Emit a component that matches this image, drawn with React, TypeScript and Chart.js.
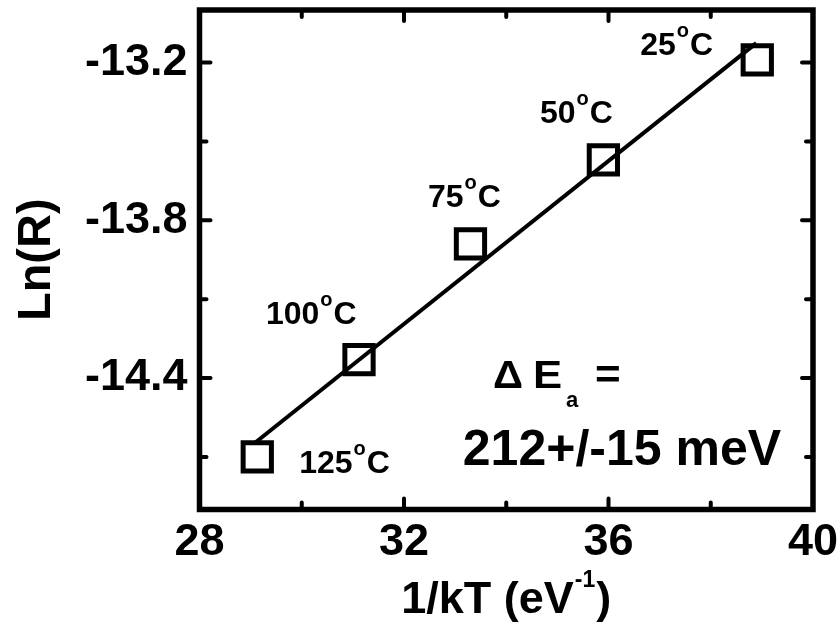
import React, { useEffect, useRef } from "react";
import { Chart, registerables } from "chart.js";

Chart.register(...registerables);

// ---- data ----
const invKT = [29.13, 31.12, 33.3, 35.9, 38.91];
const lnR = [-14.7, -14.33, -13.89, -13.57, -13.19];
const tempLabels = ["125", "100", "75", "50", "25"];
// label anchors (data coords: left edge, baseline)
const tempLabelX = [29.95, 29.3, 32.47, 34.66, 36.62];
const tempLabelY = [-14.761, -14.194, -13.749, -13.43, -13.171];
const fitX = [29.08, 38.89];
const fitY = [-14.647, -13.126];
const xTicks = [28, 30, 32, 34, 36, 38, 40];
const xMajor = [28, 32, 36, 40];
const yTicks = [-14.7, -14.4, -14.1, -13.8, -13.5, -13.2];
const yMajor = [-14.4, -13.8, -13.2];
const xTitleMain = "1/kT (eV";
const xTitleSup = "-1";
const xTitleEnd = ")";
const yTitle = "Ln(R)";
const energySymbol = ["\u0394", "E", "a", "="];
const energyValue = "212+/-15 meV";
const energyAnchor = { x: 33.74, y: -14.438 };
const energyValueAnchor = { x: 33.15, y: -14.731 };

const FONT = '"Liberation Sans", Arial, Helvetica, sans-serif';

const isIn = (arr: number[], v: number) => arr.some((a) => Math.abs(a - v) < 1e-6);

function seg(ctx: CanvasRenderingContext2D, text: string, x: number, y: number, size: number, sx = 1) {
  ctx.font = `bold ${size}px ${FONT}`;
  ctx.save();
  ctx.translate(x, y);
  ctx.scale(sx, 1);
  ctx.fillText(text, 0, 0);
  ctx.restore();
  return ctx.measureText(text).width * sx;
}

const framePlugin = {
  id: "frameAndText",
  afterDraw(chart: any) {
    const { ctx, chartArea, scales } = chart;
    const { left, right, top, bottom } = chartArea;
    const xs = scales.x;
    const ys = scales.y;
    ctx.save();
    ctx.strokeStyle = "#000";
    ctx.fillStyle = "#000";
    ctx.lineWidth = 5.5;
    ctx.strokeRect(left, top, right - left, bottom - top);
    ctx.lineWidth = 4;
    ctx.lineCap = "round";
    ctx.beginPath();
    xTicks.forEach((v) => {
      const p = xs.getPixelForValue(v);
      const len = isIn(xMajor, v) ? 11 : 7;
      ctx.moveTo(p, bottom);
      ctx.lineTo(p, bottom - len);
      ctx.moveTo(p, top);
      ctx.lineTo(p, top + len);
    });
    yTicks.forEach((v) => {
      const p = ys.getPixelForValue(v);
      const len = isIn(yMajor, v) ? 11 : 7;
      ctx.moveTo(left, p);
      ctx.lineTo(left + len, p);
      ctx.moveTo(right, p);
      ctx.lineTo(right - len, p);
    });
    ctx.stroke();

    // temperature labels
    ctx.textAlign = "left";
    ctx.textBaseline = "alphabetic";
    tempLabels.forEach((t, i) => {
      const px = xs.getPixelForValue(tempLabelX[i]);
      const py = ys.getPixelForValue(tempLabelY[i]);
      const w = seg(ctx, t, px, py, 32);
      const w2 = seg(ctx, "o", px + w + 1, py - 18, 20);
      seg(ctx, "C", px + w + w2 + 2, py, 32);
    });

    // activation energy
    {
      const px = xs.getPixelForValue(energyAnchor.x);
      const py = ys.getPixelForValue(energyAnchor.y);
      seg(ctx, energySymbol[0], px, py, 38, 1.1);
      seg(ctx, energySymbol[1], px + 40, py, 38, 1.15);
      seg(ctx, energySymbol[2], px + 73, py + 19, 22);
      seg(ctx, energySymbol[3], px + 102, py, 40, 1.1);
      const vx = xs.getPixelForValue(energyValueAnchor.x);
      const vy = ys.getPixelForValue(energyValueAnchor.y);
      seg(ctx, energyValue, vx, vy, 50);
    }

    // x title
    {
      ctx.font = `bold 45px ${FONT}`;
      const w1 = ctx.measureText(xTitleMain).width;
      ctx.font = `bold 23px ${FONT}`;
      const w2 = ctx.measureText(xTitleSup).width;
      ctx.font = `bold 45px ${FONT}`;
      const w3 = ctx.measureText(xTitleEnd).width;
      const total = w1 + w2 + w3 + 2;
      const cx = (left + right) / 2;
      const by = 613;
      let x0 = cx - total / 2;
      seg(ctx, xTitleMain, x0, by, 45);
      x0 += w1 + 1;
      seg(ctx, xTitleSup, x0, by - 26, 23);
      x0 += w2 + 1;
      seg(ctx, xTitleEnd, x0, by, 45);
    }

    // y title
    {
      ctx.save();
      ctx.translate(50, (top + bottom) / 2);
      ctx.rotate(-Math.PI / 2);
      ctx.textAlign = "center";
      ctx.textBaseline = "alphabetic";
      ctx.font = `bold 47px ${FONT}`;
      ctx.fillText(yTitle, 0, 0);
      ctx.restore();
    }
    ctx.restore();
  },
};

export default function App() {
  const ref = useRef<HTMLCanvasElement | null>(null);
  useEffect(() => {
    if (!ref.current) return;
    Chart.defaults.font.family = FONT;
    const chart = new Chart(ref.current, {
      type: "scatter",
      data: {
        datasets: [
          {
            label: "fit",
            data: fitX.map((x, i) => ({ x, y: fitY[i] })),
            showLine: true,
            borderColor: "#000",
            borderWidth: 4,
            pointRadius: 0,
            fill: false,
          },
          {
            label: "data",
            data: invKT.map((x, i) => ({ x, y: lnR[i] })),
            pointStyle: "rect",
            pointRadius: 20,
            pointBorderWidth: 5,
            pointBorderColor: "#000",
            pointBackgroundColor: "rgba(0,0,0,0)",
            showLine: false,
          },
        ],
      },
      options: {
        animation: false,
        responsive: false,
        layout: { autoPadding: false, padding: { top: 10, right: 26, left: 0, bottom: 0 } },
        plugins: { legend: { display: false }, tooltip: { enabled: false } },
        scales: {
          x: {
            type: "linear",
            min: 28,
            max: 40,
            grid: { display: false, drawTicks: false },
            border: { display: false },
            afterBuildTicks: (s: any) => {
              s.ticks = xTicks.map((v) => ({ value: v }));
            },
            afterFit: (s: any) => {
              s.height = 112.5;
              s.paddingLeft = 0;
              s.paddingRight = 0;
            },
            ticks: {
              autoSkip: false,
              maxRotation: 0,
              padding: 6,
              color: "#000",
              font: { size: 45, weight: "bold", family: FONT },
              callback: (v: any) => (isIn(xMajor, Number(v)) ? String(v) : ""),
            },
          },
          y: {
            type: "linear",
            min: -14.9,
            max: -13.0,
            grid: { display: false, drawTicks: false },
            border: { display: false },
            afterBuildTicks: (s: any) => {
              s.ticks = yTicks.map((v) => ({ value: v }));
            },
            afterFit: (s: any) => {
              s.width = 199.5;
              s.paddingTop = 0;
              s.paddingBottom = 0;
            },
            ticks: {
              autoSkip: false,
              padding: 12,
              color: "#000",
              font: { size: 45, weight: "bold", family: FONT },
              callback: (v: any) => (isIn(yMajor, Number(v)) ? Number(v).toFixed(1) : ""),
            },
          },
        },
      },
      plugins: [framePlugin],
    });
    return () => chart.destroy();
  }, []);
  return (
    <div style={{ position: "absolute", left: 0, top: 0, width: 839, height: 622, background: "#fff" }}>
      <canvas ref={ref} width={839} height={622} style={{ display: "block" }} />
    </div>
  );
}
